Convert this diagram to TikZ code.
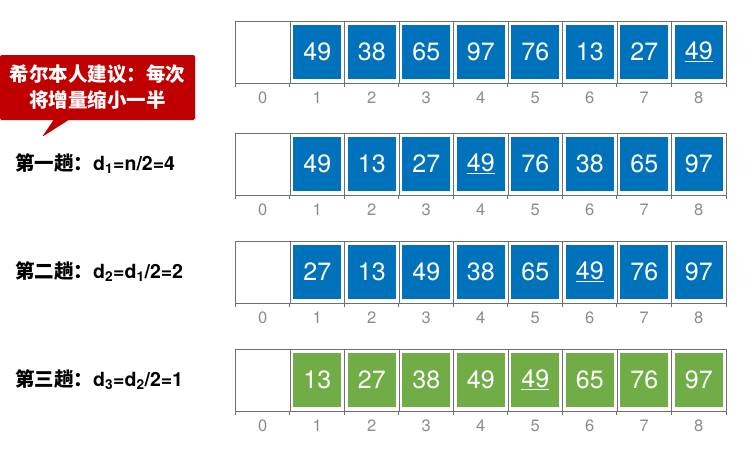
\documentclass[tikz,border=0pt]{standalone}
\usepackage{fontspec}
\setmainfont{TeX Gyre Heros}
\newfontfamily\cjk{Noto Sans CJK SC}
\usetikzlibrary{shapes.callouts}
\definecolor{cellblue}{RGB}{0,114,187}
\definecolor{cellgreen}{RGB}{112,173,71}
\definecolor{hintred}{RGB}{192,0,0}
\definecolor{gridgray}{RGB}{112,112,112}
\definecolor{idxgray}{RGB}{140,140,140}
\begin{document}
\begin{tikzpicture}[x=1pt, y=-1pt,
	slot/.style = {draw=gridgray, line width=1pt, minimum width=54.5pt,
		minimum height=62pt, inner sep=0pt},
	elem/.style = {fill=#1, text=white, minimum width=48pt, minimum height=54pt,
		inner sep=0pt, font=\fontsize{25}{25}\selectfont},
	idx/.style = {text=idxgray, inner sep=0pt, font=\fontsize{16.5}{16.5}\selectfont},
	pass/.style = {anchor=west, inner sep=0pt, font=\bfseries\fontsize{19.5}{19.5}\selectfont},
	hint/.style = {rectangle callout, fill=hintred, text=white, rounded corners=2pt,
		minimum width=195pt, minimum height=65pt, align=center, inner sep=0pt,
		callout pointer width=15pt, font=\cjk\bfseries\fontsize{19.5}{26}\selectfont}]
	\useasboundingbox (0,0) rectangle (754,448);
	% arrays
	\foreach \r/\top/\col/\vals in {
		1/21/cellblue/{49,38,65,97,76,13,27,\underline{49}},
		2/133/cellblue/{49,13,27,\underline{49},76,38,65,97},
		3/241/cellblue/{27,13,49,38,65,\underline{49},76,97},
		4/349/cellgreen/{13,27,38,49,\underline{49},65,76,97}} {
		\node[slot] (s\r-0) at (262.75,\top+31) {};
		\node[idx] (i\r-0) at (262.75,\top+77) {0};
		\draw[gridgray, line width=1pt] (s\r-0.south west) -- ++(0,3);
		\foreach \v [count=\i] in \vals {
			\node[slot] (s\r-\i) at (262.75+54.5*\i,\top+31) {};
			\node[elem=\col] (e\r-\i) at (s\r-\i) {\v};
			\node[idx] (i\r-\i) at (262.75+54.5*\i,\top+77) {\i};
			\draw[gridgray, line width=1pt] (s\r-\i.south west) -- ++(0,3);
		}
		\draw[gridgray, line width=1pt] (s\r-8.south east) -- ++(0,3);
	}
	% pass labels
	\node[pass] (p1) at (15,164) {{\cjk 第一趟：}d\textsubscript{1}=n/2=4};
	\node[pass] (p2) at (15,272) {{\cjk 第二趟：}d\textsubscript{2}=d\textsubscript{1}/2=2};
	\node[pass] (p3) at (15,380) {{\cjk 第三趟：}d\textsubscript{3}=d\textsubscript{2}/2=1};
	% note
	\node[hint, callout absolute pointer={(42,137)}] (note) at (97.5,87.5)
		{希尔本人建议：每次\\将增量缩小一半};
\end{tikzpicture}
\end{document}
